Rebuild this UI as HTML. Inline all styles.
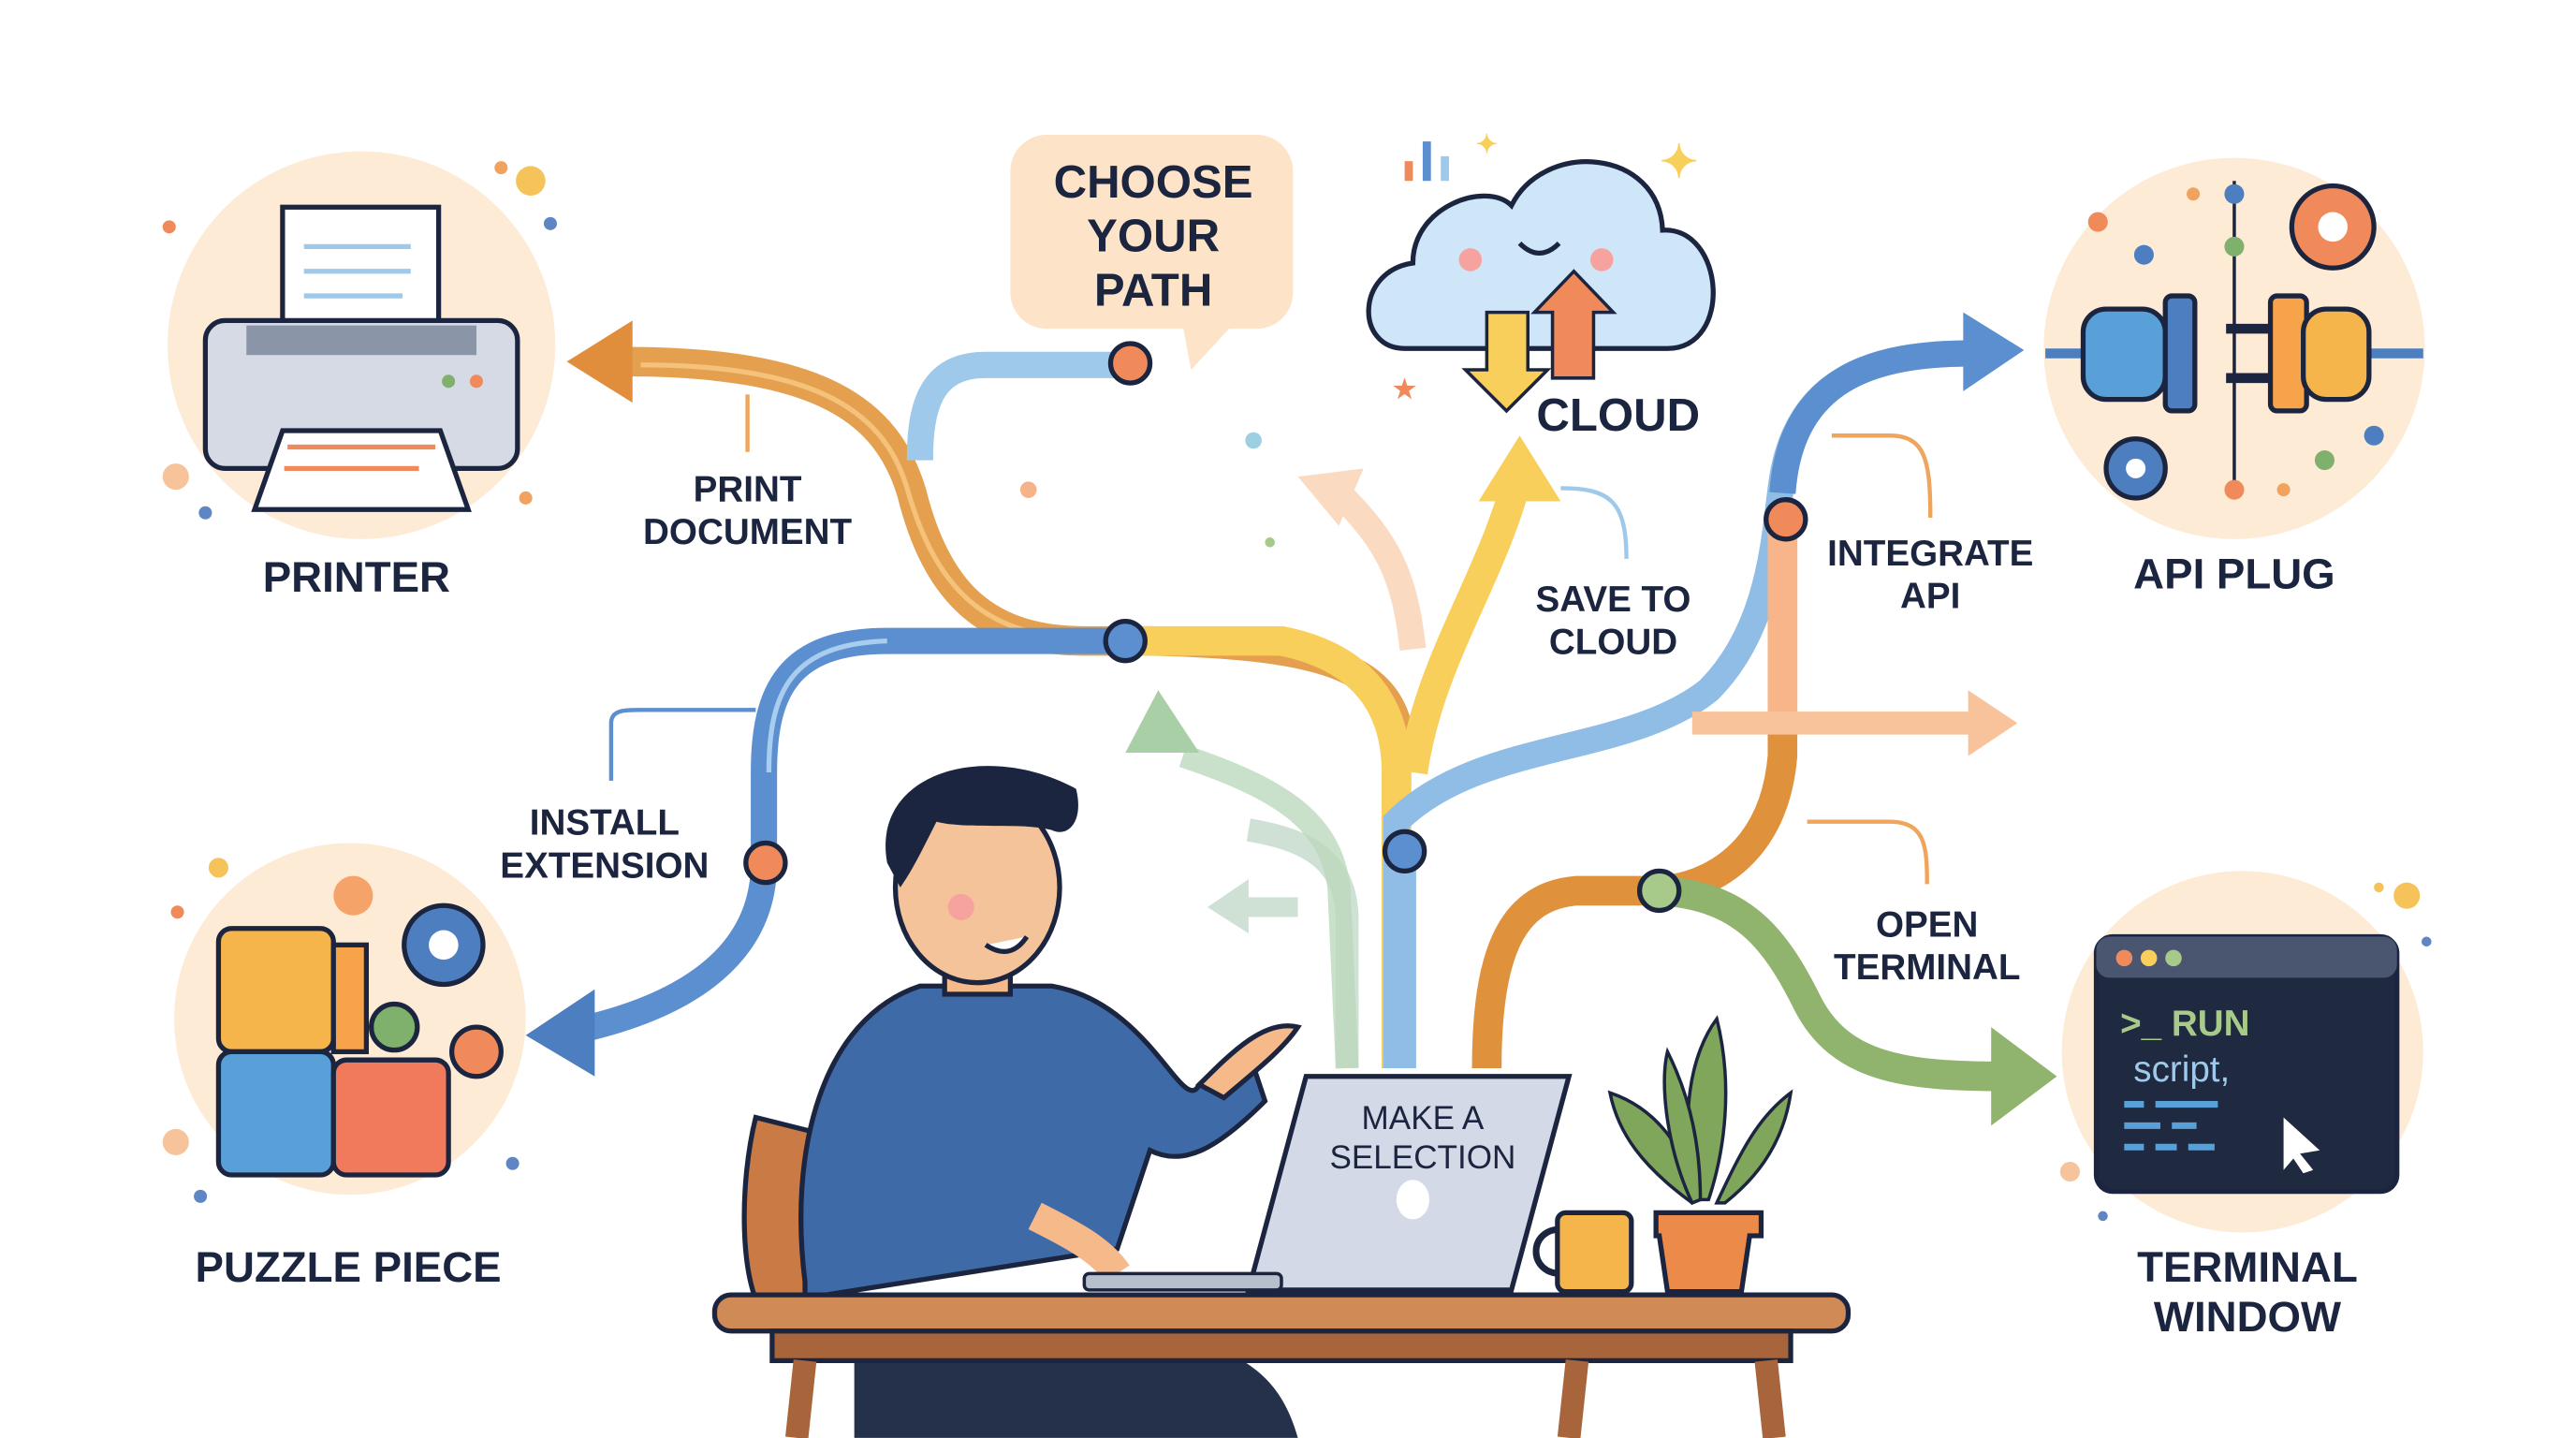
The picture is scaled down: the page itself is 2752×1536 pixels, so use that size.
<!DOCTYPE html>
<html><head><meta charset="utf-8"><style>
html,body{margin:0;padding:0;background:#fff;}
svg{display:block;}
text{font-family:"Liberation Sans",sans-serif;font-weight:bold;fill:#1c2540;text-anchor:middle;}
</style></head><body>
<svg width="2752" height="1536" viewBox="0 0 1568 875" xmlns="http://www.w3.org/2000/svg">
<rect width="1568" height="875" fill="#fff"/>
<circle cx="220" cy="210" r="118" fill="#fdebd6"/>
<circle cx="213" cy="620" r="107" fill="#fdebd6"/>
<circle cx="1360" cy="212" r="116" fill="#fdebd6"/>
<circle cx="1365" cy="640" r="110" fill="#fdebd6"/>
<g>
<circle cx="323" cy="110" r="9" fill="#f6c35a"/><circle cx="305" cy="102" r="4" fill="#f2a25f"/>
<circle cx="103" cy="138" r="4" fill="#ef8a5b"/><circle cx="335" cy="136" r="4" fill="#5f86c4"/>
<circle cx="107" cy="290" r="8" fill="#f6c39a"/><circle cx="125" cy="312" r="4" fill="#5f86c4"/>
<circle cx="320" cy="303" r="4" fill="#f2a25f"/>
<circle cx="133" cy="528" r="6" fill="#f6c35a"/><circle cx="108" cy="555" r="4" fill="#ef8a5b"/>
<circle cx="107" cy="695" r="8" fill="#f6c39a"/><circle cx="122" cy="728" r="4" fill="#5f86c4"/>
<circle cx="312" cy="708" r="4" fill="#5f86c4"/>
<circle cx="1465" cy="545" r="8" fill="#f6c35a"/><circle cx="1448" cy="540" r="3" fill="#f6c35a"/>
<circle cx="1477" cy="573" r="3" fill="#5f86c4"/><circle cx="1260" cy="713" r="6" fill="#f6c39a"/>
<circle cx="1280" cy="740" r="3" fill="#5f86c4"/>
<circle cx="1335" cy="118" r="4" fill="#f2a25f"/><circle cx="1390" cy="298" r="4" fill="#f2a25f"/>
<circle cx="763" cy="268" r="5" fill="#9cd0e0"/><circle cx="626" cy="298" r="5" fill="#f6b38a"/>
<circle cx="773" cy="330" r="3" fill="#a7c98a"/>
</g>
<path d="M820 650 L820 560 C820 520 790 510 760 505" stroke="#cfe1d5" stroke-width="14" fill="none"/>
<polygon points="735,552 760,535 760,568" fill="#cfe1d5"/>
<path d="M755 552 L790 552" stroke="#cfe1d5" stroke-width="12"/>
<path d="M820 650 L815 540 C810 500 780 480 720 460" stroke="#bcd8bd" stroke-width="14" fill="none" opacity=".8"/>
<polygon points="705,420 685,458 730,458" fill="#a9cfa6"/>
<path d="M860 395 C855 350 845 330 815 300" stroke="#fadbc2" stroke-width="16" fill="none"/>
<polygon points="790,290 830,285 815,320" fill="#fadbc2"/>
<path d="M850 640 L850 440 C840 405 800 392 700 390 L660 390 C600 390 570 360 555 300 C540 250 500 220 380 220" stroke="#e4a04f" stroke-width="18" fill="none"/>
<path d="M660 388 C600 388 570 358 553 300 C540 252 500 222 390 222" stroke="#f4c27a" stroke-width="3" fill="none"/>
<polygon points="345,220 385,195 385,245" fill="#e08e3c"/>
<path d="M688 222 L600 222 C565 222 560 250 560 280" stroke="#9ec9ea" stroke-width="16" fill="none"/>
<path d="M685 390 L780 390 C830 400 850 430 850 470 L850 650" stroke="#f8cf5a" stroke-width="18" fill="none"/>
<path d="M860 470 C870 400 910 350 925 285" stroke="#f8cf5a" stroke-width="18" fill="none"/>
<polygon points="925,265 900,305 950,305" fill="#f8cf5a"/>
<path d="M685 390 L540 390 C480 390 465 420 465 470 L465 525 C465 580 420 610 360 625" stroke="#5b8fcf" stroke-width="16" fill="none"/>
<path d="M540 390 C482 392 468 420 468 470" stroke="#a8cdee" stroke-width="3" fill="none"/>
<polygon points="320,630 362,602 362,655" fill="#4d7fc0"/>
<path d="M850 650 L850 500 C900 450 990 460 1040 420 C1080 380 1080 320 1085 290 C1095 230 1140 215 1200 215" stroke="#8fbde6" stroke-width="16" fill="none"/>
<path d="M1085 300 C1090 230 1140 215 1200 215" stroke="#5b8fcf" stroke-width="16" fill="none"/>
<polygon points="1232,213 1195,190 1195,238" fill="#5b8fcf"/>
<path d="M1085 320 L1085 460 C1080 520 1040 540 1010 542 L960 542 C920 545 905 580 905 650" stroke="#e0913c" stroke-width="18" fill="none"/>
<path d="M1085 320 L1085 440" stroke="#f8b58a" stroke-width="18"/>
<path d="M1030 440 L1200 440" stroke="#f8c39a" stroke-width="14"/>
<polygon points="1228,440 1198,420 1198,460" fill="#f8c39a"/>
<path d="M1010 542 C1060 545 1080 570 1100 610 C1120 650 1160 655 1220 655" stroke="#90b46e" stroke-width="18" fill="none"/>
<polygon points="1252,655 1212,625 1212,685" fill="#90b46e"/>
<path d="M855 520 L855 650" stroke="#8fbde6" stroke-width="14"/>
<g stroke="#1c2540" stroke-width="3">
<circle cx="688" cy="221" r="12" fill="#f08a5b"/>
<circle cx="685" cy="390" r="12" fill="#5b8fcf"/>
<circle cx="466" cy="525" r="12" fill="#f08a5b"/>
<circle cx="1087" cy="316" r="12" fill="#f08a5b"/>
<circle cx="855" cy="518" r="12" fill="#5b8fcf"/>
<circle cx="1010" cy="542" r="12" fill="#a7c98a"/>
</g>
<g stroke="#f0a55c" stroke-width="2.5" fill="none">
<path d="M455 240 L455 275"/><path d="M1115 265 L1150 265 C1172 265 1175 280 1175 315"/>
<path d="M1100 500 L1150 500 C1172 500 1173 515 1173 538"/>
</g>
<path d="M372 475 L372 440 C372 432 380 432 390 432 L460 432" stroke="#5b8fcf" stroke-width="2.5" fill="none"/>
<path d="M950 297 C980 297 990 305 990 340" stroke="#9ec9ea" stroke-width="2.5" fill="none"/>
<rect x="615" y="82" width="172" height="118" rx="22" fill="#fde3c8"/>
<polygon points="720,198 750,198 725,225" fill="#fde3c8"/>
<text x="702" y="120" font-size="28">CHOOSE</text>
<text x="702" y="153" font-size="28">YOUR</text>
<text x="702" y="186" font-size="28">PATH</text>
<path d="M855 212 C825 212 825 165 860 160 C860 125 905 110 920 125 C940 85 1010 90 1012 140 C1050 138 1055 212 1015 212 Z" fill="#cfe6f9" stroke="#1c2540" stroke-width="3"/>
<circle cx="895" cy="158" r="7" fill="#f6a3a0"/><circle cx="975" cy="158" r="7" fill="#f6a3a0"/>
<path d="M925 148 q12 12 24 0" stroke="#1c2540" stroke-width="3" fill="none"/>
<polygon points="905,190 930,190 930,225 942,225 917,250 892,225 905,225" fill="#f8cf5a" stroke="#1c2540" stroke-width="2"/>
<polygon points="945,190 945,230 970,230 970,190 982,190 958,165 934,190" fill="#f08a5b" stroke="#1c2540" stroke-width="2"/>
<rect x="855" y="98" width="5" height="12" fill="#f08a5b"/><rect x="866" y="86" width="5" height="24" fill="#5b8fcf"/><rect x="877" y="95" width="5" height="15" fill="#9ec9ea"/>
<text x="1022" y="108" font-size="28" style="fill:#f8cf5a">✦</text>
<text x="905" y="93" font-size="16" style="fill:#f8cf5a">✦</text>
<text x="855" y="242" font-size="16" style="fill:#f08a5b">★</text>
<text x="985" y="262" font-size="28">CLOUD</text>
<text x="455" y="305" font-size="22">PRINT</text>
<text x="455" y="331" font-size="22">DOCUMENT</text>
<text x="982" y="372" font-size="22">SAVE TO</text>
<text x="982" y="398" font-size="22">CLOUD</text>
<text x="1175" y="344" font-size="22">INTEGRATE</text>
<text x="1175" y="370" font-size="22">API</text>
<text x="368" y="508" font-size="22">INSTALL</text>
<text x="368" y="534" font-size="22">EXTENSION</text>
<text x="1173" y="570" font-size="22">OPEN</text>
<text x="1173" y="596" font-size="22">TERMINAL</text>
<rect x="172" y="126" width="95" height="75" fill="#fff" stroke="#1c2540" stroke-width="3"/>
<path d="M185 150 H250 M185 165 H250 M185 180 H245" stroke="#9ec9ea" stroke-width="3"/>
<rect x="125" y="195" width="190" height="90" rx="12" fill="#d5dae4" stroke="#1c2540" stroke-width="3"/>
<rect x="150" y="198" width="140" height="18" fill="#8b95a8"/>
<circle cx="273" cy="232" r="4" fill="#7fb06c"/><circle cx="290" cy="232" r="4" fill="#f08a5b"/>
<polygon points="172,262 268,262 285,310 155,310" fill="#fff" stroke="#1c2540" stroke-width="3"/>
<path d="M175 272 H265 M173 285 H255" stroke="#f08a5b" stroke-width="3"/>
<text x="217" y="360" font-size="26">PRINTER</text>
<rect x="133" y="565" width="70" height="75" rx="8" fill="#f6b54a" stroke="#1c2540" stroke-width="3"/>
<rect x="203" y="575" width="20" height="65" fill="#f6a34a" stroke="#1c2540" stroke-width="3"/>
<rect x="133" y="640" width="70" height="75" rx="8" fill="#5aa0d8" stroke="#1c2540" stroke-width="3"/>
<rect x="203" y="645" width="70" height="70" rx="8" fill="#f07a5b" stroke="#1c2540" stroke-width="3"/>
<circle cx="270" cy="575" r="24" fill="#4d7fc0" stroke="#1c2540" stroke-width="3"/><circle cx="270" cy="575" r="9" fill="#fff"/>
<circle cx="240" cy="625" r="14" fill="#7fb06c" stroke="#1c2540" stroke-width="3"/>
<circle cx="290" cy="640" r="15" fill="#f08a5b" stroke="#1c2540" stroke-width="3"/>
<circle cx="215" cy="545" r="12" fill="#f6a36a"/>
<text x="212" y="780" font-size="26">PUZZLE PIECE</text>
<path d="M1245 215 H1270 M1440 215 H1475" stroke="#4d7fc0" stroke-width="6"/>
<rect x="1268" y="188" width="50" height="55" rx="14" fill="#5aa0d8" stroke="#1c2540" stroke-width="3"/>
<rect x="1318" y="180" width="18" height="70" rx="4" fill="#4d7fc0" stroke="#1c2540" stroke-width="3"/>
<path d="M1355 200 H1385 M1355 230 H1385" stroke="#1c2540" stroke-width="6"/>
<rect x="1382" y="180" width="22" height="70" rx="4" fill="#f6a34a" stroke="#1c2540" stroke-width="3"/>
<rect x="1402" y="188" width="40" height="55" rx="14" fill="#f6b54a" stroke="#1c2540" stroke-width="3"/>
<circle cx="1420" cy="138" r="25" fill="#f08a5b" stroke="#1c2540" stroke-width="3"/><circle cx="1420" cy="138" r="9" fill="#fff"/>
<circle cx="1300" cy="285" r="18" fill="#4d7fc0" stroke="#1c2540" stroke-width="3"/><circle cx="1300" cy="285" r="6" fill="#fff"/>
<path d="M1360 110 V300" stroke="#1c2540" stroke-width="2"/>
<circle cx="1360" cy="118" r="6" fill="#4d7fc0"/><circle cx="1360" cy="150" r="6" fill="#7fb06c"/><circle cx="1360" cy="298" r="6" fill="#f08a5b"/>
<circle cx="1277" cy="135" r="6" fill="#f08a5b"/><circle cx="1305" cy="155" r="6" fill="#4d7fc0"/>
<circle cx="1445" cy="265" r="6" fill="#4d7fc0"/><circle cx="1415" cy="280" r="6" fill="#7fb06c"/>
<text x="1360" y="358" font-size="26">API PLUG</text>
<rect x="1276" y="570" width="183" height="155" rx="10" fill="#1f2a40" stroke="#1c2540" stroke-width="3"/>
<rect x="1276" y="570" width="183" height="25" rx="8" fill="#4a5670"/>
<circle cx="1293" cy="583" r="5" fill="#f08a5b"/><circle cx="1308" cy="583" r="5" fill="#f8cf5a"/><circle cx="1323" cy="583" r="5" fill="#a7c98a"/>
<text x="1330" y="630" font-size="22" style="fill:#a7c98a">&gt;_ RUN</text>
<text x="1328" y="658" font-size="22" style="fill:#9ec9ea;font-weight:normal">script,</text>
<path d="M1293 672 H1305 M1312 672 H1350 M1293 685 H1315 M1322 685 H1337 M1293 698 H1305 M1312 698 H1325 M1332 698 H1348" stroke="#5aa0d8" stroke-width="4"/>
<polygon points="1390,680 1412,700 1400,702 1408,712 1402,714 1396,705 1390,712" fill="#fff"/>
<text x="1368" y="780" font-size="26">TERMINAL</text>
<text x="1368" y="810" font-size="26">WINDOW</text>
<path d="M460 680 C450 720 450 780 465 800 L500 800 L500 690 Z" fill="#c97a45" stroke="#1c2540" stroke-width="3"/>
<path d="M490 780 C480 700 500 620 560 600 L640 600 C700 610 720 680 730 660 L760 640 L770 670 C740 700 720 710 700 700 L680 760 L490 790 Z" fill="#3f6aa8" stroke="#1c2540" stroke-width="3"/>
<path d="M730 660 C750 640 770 620 790 625 C780 640 760 655 745 668 Z" fill="#f5b98a" stroke="#1c2540" stroke-width="3"/>
<rect x="575" y="560" width="40" height="45" fill="#f5b98a" stroke="#1c2540" stroke-width="3"/>
<ellipse cx="595" cy="540" rx="50" ry="58" fill="#f5c39a" stroke="#1c2540" stroke-width="3"/>
<path d="M540 525 C530 470 600 450 655 480 C660 500 650 510 640 505 C620 500 590 505 570 500 C560 520 555 530 548 540 Z" fill="#1c2540"/>
<circle cx="585" cy="552" r="8" fill="#f6a3a0"/>
<path d="M600 575 q15 10 25 -5" stroke="#1c2540" stroke-width="3" fill="#fff"/>
<path d="M630 740 C650 750 670 760 680 775" stroke="#f5b98a" stroke-width="18" fill="none"/>
<path d="M520 810 L520 875 L790 875 C780 840 760 820 700 810 Z" fill="#25304a"/>
<polygon points="795,655 955,655 920,785 760,785" fill="#d3d9e6" stroke="#1c2540" stroke-width="3"/>
<rect x="660" y="775" width="120" height="10" rx="3" fill="#b8bfcc" stroke="#1c2540" stroke-width="2"/>
<ellipse cx="860" cy="730" rx="10" ry="12" fill="#fff"/>
<text x="866" y="687" font-size="20" style="font-weight:normal">MAKE A</text>
<text x="866" y="711" font-size="20" style="font-weight:normal">SELECTION</text>
<path d="M950 748 C930 748 930 775 950 775" stroke="#1c2540" stroke-width="4" fill="none"/>
<rect x="948" y="738" width="45" height="48" rx="5" fill="#f6b54a" stroke="#1c2540" stroke-width="3"/>
<g fill="#7fa65a" stroke="#1c2540" stroke-width="2">
<path d="M1035 730 C1020 680 1030 640 1045 620 C1055 660 1050 700 1040 730Z"/>
<path d="M1030 732 C1000 710 985 690 980 665 C1010 675 1025 700 1035 730Z"/>
<path d="M1045 732 C1060 700 1070 680 1090 665 C1085 700 1065 720 1050 732Z"/>
<path d="M1030 732 C1015 700 1010 660 1015 640 C1030 670 1035 700 1035 730Z"/>
</g>
<path d="M1008 738 H1072 V752 H1065 L1060 786 H1015 L1010 752 H1008 Z" fill="#ec8a4a" stroke="#1c2540" stroke-width="3"/>
<rect x="435" y="788" width="690" height="22" rx="10" fill="#cf8a55" stroke="#1c2540" stroke-width="3"/>
<rect x="470" y="810" width="620" height="18" fill="#a8643a" stroke="#1c2540" stroke-width="3"/>
<path d="M960 828 L955 875 M1075 828 L1080 875" stroke="#a8643a" stroke-width="14"/>
<path d="M490 828 L485 875" stroke="#a8643a" stroke-width="14"/>
</svg>
</body></html>
